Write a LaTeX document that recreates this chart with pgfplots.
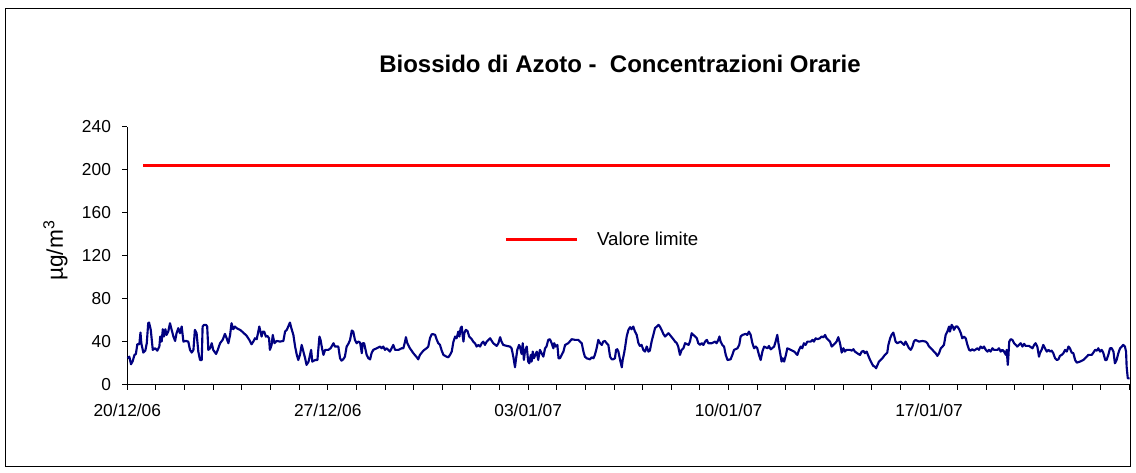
\documentclass[border=0pt]{standalone}
\usepackage{fontspec}
\setmainfont{Liberation Sans}
\usepackage{pgfplots}
\usepackage{pgfplotstable}
\pgfplotsset{compat=1.18}
\definecolor{navyline}{RGB}{0,0,128}
\definecolor{limitred}{RGB}{255,0,0}

\pgfplotstableread{
x y
0.01 24.6
0.07 26.1
0.13 19.0
0.19 22.1
0.25 27.7
0.30 28.6
0.35 37.6
0.42 37.6
0.46 48.5
0.49 38.6
0.56 29.9
0.63 31.7
0.68 38.6
0.73 57.2
0.76 57.8
0.82 51.0
0.89 32.4
0.97 33.9
1.05 31.7
1.12 35.5
1.15 44.8
1.20 40.1
1.24 51.6
1.28 44.8
1.33 51.6
1.37 46.3
1.43 49.4
1.49 57.2
1.55 51.0
1.61 44.8
1.67 40.7
1.72 47.9
1.78 52.6
1.84 47.9
1.90 54.1
1.96 40.1
2.05 40.7
2.13 40.1
2.19 32.4
2.25 29.9
2.31 32.4
2.36 51.0
2.42 47.9
2.48 30.8
2.54 23.0
2.60 23.0
2.63 54.1
2.68 55.7
2.75 55.7
2.79 54.1
2.83 32.4
2.89 33.9
2.95 38.6
3.00 32.4
3.10 28.6
3.16 32.4
3.24 38.6
3.33 41.7
3.41 47.3
3.47 43.2
3.53 38.6
3.59 46.3
3.64 57.2
3.70 51.6
3.76 54.1
3.82 52.6
3.94 51.0
4.05 48.5
4.17 45.4
4.26 41.7
4.34 37.6
4.40 40.1
4.46 43.2
4.52 42.3
4.61 54.1
4.69 44.8
4.73 49.4
4.78 49.4
4.84 44.8
4.89 45.4
4.95 43.2
4.98 32.4
5.04 37.0
5.08 46.3
5.14 38.6
5.22 40.7
5.33 40.1
5.45 40.7
5.51 49.4
5.57 51.0
5.62 54.1
5.68 57.8
5.74 51.6
5.80 46.3
5.86 35.5
5.92 27.7
5.97 23.0
6.03 27.7
6.09 37.0
6.15 30.8
6.21 24.6
6.26 18.4
6.33 21.5
6.42 32.4
6.46 21.5
6.56 23.0
6.64 23.0
6.71 44.8
6.75 41.7
6.80 33.9
6.85 27.7
6.91 32.4
7.02 32.4
7.10 33.9
7.20 38.6
7.25 35.5
7.37 35.5
7.43 24.6
7.48 22.4
7.54 23.6
7.60 26.1
7.66 35.5
7.72 38.0
7.78 41.7
7.84 50.4
7.89 49.4
7.95 41.7
8.01 38.6
8.07 40.1
8.13 39.2
8.19 29.3
8.22 38.6
8.27 38.6
8.36 27.7
8.42 24.6
8.48 23.6
8.53 29.3
8.59 32.4
8.71 33.9
8.83 35.5
8.88 33.9
8.94 35.5
9.00 32.4
9.06 33.9
9.17 30.8
9.23 33.9
9.29 37.0
9.35 32.4
9.47 32.4
9.58 33.9
9.64 33.9
9.70 40.1
9.73 44.2
9.78 38.6
9.87 33.9
9.99 29.3
10.11 25.5
10.16 23.6
10.22 27.7
10.34 31.7
10.45 33.9
10.51 35.5
10.57 43.2
10.63 46.9
10.69 46.9
10.75 46.3
10.81 41.7
10.86 38.6
10.92 37.0
10.98 31.7
11.04 27.7
11.15 26.1
11.21 25.5
11.27 27.7
11.33 30.8
11.39 40.1
11.45 44.8
11.50 43.2
11.56 49.4
11.60 44.8
11.64 52.6
11.68 54.1
11.71 46.3
11.74 40.1
11.77 47.9
11.82 51.0
11.88 50.0
11.94 44.8
12.03 42.3
12.08 40.1
12.14 38.6
12.20 35.5
12.26 37.0
12.32 35.5
12.38 38.6
12.43 40.1
12.49 37.0
12.55 40.1
12.67 43.2
12.78 38.6
12.90 36.1
12.96 38.6
13.02 44.2
13.07 40.1
13.13 37.0
13.25 36.1
13.36 35.5
13.42 33.9
13.48 26.1
13.54 16.2
13.57 23.0
13.62 32.4
13.68 37.0
13.71 35.5
13.77 28.6
13.81 38.6
13.85 23.0
13.89 31.7
13.95 35.5
14.00 21.5
14.04 19.9
14.09 27.7
14.12 21.5
14.16 30.8
14.20 24.6
14.30 30.8
14.35 23.0
14.41 32.4
14.47 29.3
14.53 26.1
14.59 33.9
14.64 35.5
14.70 41.7
14.76 42.3
14.82 38.6
14.88 33.9
14.91 38.6
14.96 35.5
15.02 37.0
15.06 24.6
15.11 24.6
15.17 27.7
15.23 30.8
15.29 37.0
15.40 38.6
15.52 42.3
15.64 41.7
15.75 41.7
15.81 40.1
15.87 38.6
15.93 30.8
15.98 26.1
16.04 24.6
16.16 23.6
16.22 25.5
16.28 24.6
16.33 27.7
16.39 33.9
16.45 41.7
16.51 38.6
16.57 37.0
16.62 40.1
16.68 40.7
16.74 38.6
16.80 37.0
16.86 26.1
16.92 23.6
16.97 23.6
17.03 24.6
17.07 32.4
17.11 33.0
17.15 30.8
17.21 23.0
17.27 16.2
17.30 23.0
17.35 29.3
17.38 33.9
17.44 44.8
17.50 51.0
17.56 53.5
17.61 51.6
17.67 54.1
17.73 49.4
17.79 46.3
17.85 38.6
17.90 36.1
17.96 37.0
18.02 32.4
18.08 30.8
18.14 35.5
18.20 30.8
18.25 31.7
18.31 40.1
18.37 46.3
18.43 52.6
18.49 54.1
18.55 55.7
18.60 54.1
18.66 51.0
18.72 47.3
18.78 44.8
18.84 46.3
18.90 47.9
18.95 46.3
19.07 42.3
19.13 40.1
19.19 38.6
19.24 35.5
19.30 27.7
19.36 32.4
19.42 33.9
19.48 38.6
19.60 37.0
19.65 40.1
19.71 47.9
19.77 46.3
19.83 44.8
19.89 43.2
19.94 38.6
20.00 37.0
20.06 38.6
20.12 37.0
20.18 40.1
20.24 41.7
20.29 38.6
20.41 38.6
20.53 40.1
20.58 38.6
20.64 41.7
20.68 44.8
20.72 40.1
20.78 37.0
20.84 35.5
20.90 27.7
20.96 23.0
21.07 23.6
21.13 27.7
21.19 32.4
21.31 33.9
21.37 37.0
21.42 44.8
21.48 46.3
21.60 47.3
21.65 46.3
21.71 49.4
21.77 46.3
21.83 38.6
21.89 33.9
21.95 35.5
22.00 33.9
22.06 27.7
22.12 23.0
22.18 30.8
22.24 35.5
22.36 33.9
22.41 36.1
22.47 32.9
22.59 35.5
22.64 40.1
22.70 46.3
22.74 38.6
22.80 29.3
22.85 21.5
22.89 24.6
22.94 21.5
23.00 27.7
23.05 33.9
23.17 32.4
23.29 30.8
23.40 27.7
23.46 32.4
23.52 35.5
23.57 33.9
23.63 38.6
23.69 37.0
23.75 40.1
23.87 40.1
23.93 41.7
23.98 40.1
24.04 43.2
24.10 42.3
24.19 43.2
24.25 44.8
24.31 44.1
24.37 46.3
24.42 43.2
24.48 41.7
24.54 40.1
24.60 35.5
24.66 37.0
24.72 38.6
24.77 40.1
24.83 44.2
24.89 38.6
24.95 29.9
25.01 33.9
25.06 30.8
25.12 32.4
25.24 32.4
25.30 31.7
25.36 33.0
25.41 30.8
25.53 28.6
25.59 27.7
25.65 30.8
25.71 31.4
25.76 29.3
25.82 30.8
25.88 26.8
25.94 23.0
26.00 19.9
26.05 17.4
26.11 16.8
26.15 15.3
26.20 18.4
26.25 21.5
26.31 23.0
26.37 24.6
26.43 26.8
26.49 28.6
26.54 29.9
26.58 37.0
26.64 43.2
26.69 46.3
26.75 48.5
26.79 44.8
26.83 40.1
26.89 38.6
27.01 40.1
27.07 38.6
27.13 37.0
27.18 40.1
27.24 37.0
27.30 33.9
27.36 32.4
27.42 35.5
27.47 40.1
27.53 41.7
27.65 40.1
27.77 40.7
27.88 40.1
27.94 38.6
28.00 35.5
28.06 33.9
28.12 32.4
28.17 30.8
28.23 29.3
28.29 26.8
28.35 29.3
28.41 33.9
28.47 35.5
28.52 37.0
28.58 46.3
28.64 49.4
28.70 54.1
28.73 49.4
28.79 55.7
28.83 54.1
28.87 51.0
28.93 54.1
28.99 54.1
29.05 51.6
29.11 47.9
29.16 43.2
29.22 44.8
29.28 43.2
29.34 37.0
29.40 32.4
29.45 31.7
29.51 33.0
29.57 31.7
29.69 33.9
29.74 32.4
29.80 35.5
29.86 33.9
29.92 35.5
29.98 32.4
30.04 30.8
30.09 32.4
30.15 30.8
30.21 33.9
30.27 32.4
30.39 32.4
30.44 33.9
30.50 30.8
30.56 32.4
30.62 30.8
30.68 27.7
30.71 32.4
30.75 18.4
30.77 26.1
30.80 40.1
30.85 42.3
30.91 41.7
30.97 38.6
31.03 37.0
31.08 35.5
31.14 37.0
31.20 38.6
31.26 35.5
31.32 38.0
31.37 36.1
31.49 36.1
31.61 33.9
31.67 37.0
31.72 38.6
31.78 35.5
31.84 26.1
31.87 29.3
31.93 32.4
31.99 37.0
32.05 33.9
32.11 30.8
32.17 32.4
32.23 30.8
32.28 31.7
32.34 29.3
32.40 24.6
32.46 23.0
32.52 23.6
32.57 26.8
32.63 27.7
32.69 29.3
32.75 32.4
32.81 30.8
32.87 35.5
32.92 33.9
32.98 29.9
33.04 29.3
33.10 23.0
33.16 20.5
33.27 21.5
33.39 23.0
33.45 24.6
33.51 26.1
33.56 27.7
33.68 27.7
33.74 29.9
33.80 32.4
33.86 31.7
33.91 33.9
33.97 30.8
34.03 32.4
34.09 29.3
34.15 23.0
34.20 23.0
34.26 27.7
34.32 33.9
34.38 33.9
34.44 30.8
34.49 19.9
34.55 23.0
34.61 29.3
34.67 33.9
34.73 35.5
34.78 37.0
34.84 35.5
34.88 30.8
34.90 16.8
34.94 5.9
35.00 5.9
}\notable

\pgfplotstableread{
x y
0.55 204
34.31 204
}\limittable

\begin{document}
\begin{tikzpicture}
\useasboundingbox (-95.475pt,-65.475pt) rectangle (756.525pt,288.525pt);
\draw[black, line width=0.75pt] (-91pt,-61.7pt) rectangle (752.6pt,281.8pt);
\begin{axis}[
  at={(0,0)}, anchor=south west,
  scale only axis,
  width=751.65pt, height=193.5pt,
  xmin=0, xmax=35, ymin=0, ymax=240,
  axis x line*=bottom, axis y line*=left,
  axis line style={black, line width=0.75pt},
  tick align=outside,
  major tick length=3.75pt,
  minor tick length=3.75pt,
  tick style={black, line width=0.75pt},
  xtick={0,7,14,21,28},
  xticklabels={20/12/06,27/12/06,03/01/07,10/01/07,17/01/07},
  minor xtick={1,...,35},
  ytick={0,40,...,240},
  /pgf/number format/assume math mode=true,
  ticklabel style={font=\fontsize{13}{15}\selectfont},
  yticklabel style={xshift=-5pt},
  xticklabel style={yshift=-7pt},
  title={\bfseries Biossido di Azoto -\ \ Concentrazioni Orarie},
  title style={at={(axis description cs:0.4916,1.18)}, anchor=base, font=\fontsize{18}{20}\selectfont},
  ylabel={µg/m\textsuperscript{3}},
  ylabel style={at={(axis description cs:-0.055,0.52)}, anchor=south, font=\fontsize{17}{19}\selectfont},
  legend style={draw=none, fill=none, at={(axis description cs:0.376,0.561)}, anchor=west, font=\fontsize{14}{16}\selectfont, inner sep=0pt},
  legend cell align=left,
  legend image code/.code={\draw[#1] (0pt,0pt) -- (53.25pt,0pt);},
  clip=false,
]
\addplot[navyline, line width=1.6pt, line join=round, forget plot] table[x=x,y=y] {\notable};
\addplot[limitred, line width=2.25pt] table[x=x,y=y] {\limittable};
\addlegendentry{\hspace{12pt}Valore limite}
\end{axis}
\end{tikzpicture}
\end{document}
